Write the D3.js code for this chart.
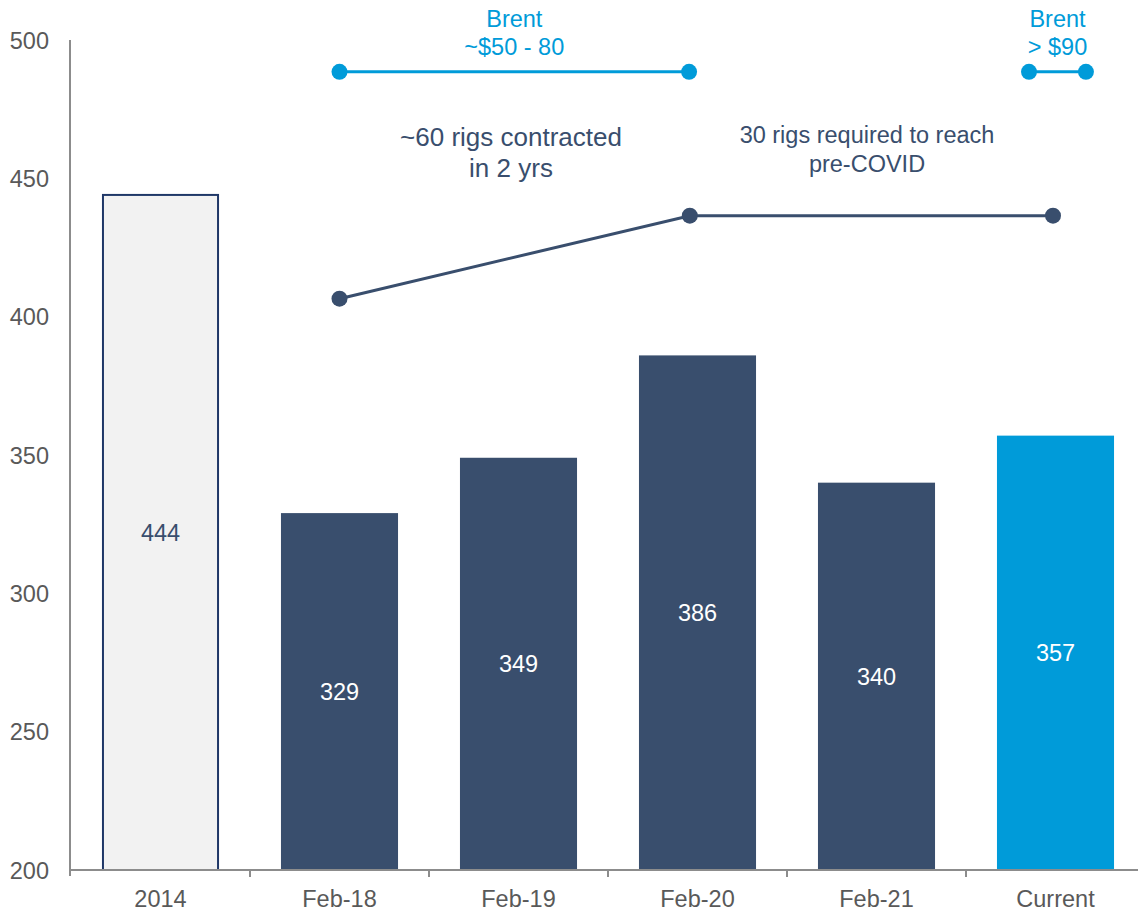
<!DOCTYPE html>
<html>
<head>
<meta charset="utf-8">
<script src="https://cdn.jsdelivr.net/npm/d3@7"></script>
<style>
  html, body { margin: 0; padding: 0; background: #ffffff; }
  svg { display: block; font-family: "Liberation Sans", Arial, sans-serif; }
</style>
</head>
<body>
<svg id="chart" width="1138" height="911"></svg>
<script>
// Active rig count by period
const categories = ["2014", "Feb-18", "Feb-19", "Feb-20", "Feb-21", "Current"];
const rigCounts = [444, 329, 349, 386, 340, 357];
const yTicks = [200, 250, 300, 350, 400, 450, 500];

// Trend line of contracted rigs (category position, value)
const trendPos = [1, 2.957, 4.986];
const trendValues = [406.5, 436.5, 436.5];

// Brent price brackets (category position span, level)
const brentSpans = [[1, 2.953], [4.852, 5.17]];
const brentLevel = 488.5;
const brentLabels = [["Brent", "~$50 - 80"], ["Brent", "> $90"]];

const navy = "#394e6d";
const blue = "#009bd9";
const axisGrey = "#8c8c8c";
const textGrey = "#595959";

const svg = d3.select("#chart");
const axisX = 70, plotLeft = 71, plotRight = 1145, plotTop = 40, plotBottom = 870;

const x = d3.scaleBand().domain(categories).range([plotLeft, plotRight])
  .paddingInner(0.346).paddingOuter(0.173);
const xPos = d3.scaleLinear().domain([-0.5, categories.length - 0.5]).range([plotLeft, plotRight]);
const y = d3.scaleLinear().domain([200, 500]).range([plotBottom, plotTop]);

// Bars
svg.append("g").selectAll("rect")
  .data(categories)
  .join("rect")
  .attr("x", d => x(d) + (d === "2014" ? 1 : 0))
  .attr("width", d => x.bandwidth() - (d === "2014" ? 2 : 0))
  .attr("y", (d, i) => y(rigCounts[i]))
  .attr("height", (d, i) => y(200) - y(rigCounts[i]))
  .attr("fill", (d, i) => i === 0 ? "#f2f2f2" : (i === categories.length - 1 ? blue : navy))
  .attr("stroke", (d, i) => i === 0 ? "#1f3767" : "none")
  .attr("stroke-width", 2);

// Value labels in bar middles
svg.append("g").selectAll("text")
  .data(categories)
  .join("text")
  .attr("x", d => x(d) + x.bandwidth() / 2)
  .attr("y", (d, i) => (y(rigCounts[i]) + y(200)) / 2 + 8.5)
  .attr("text-anchor", "middle")
  .attr("font-size", 23.5)
  .attr("fill", (d, i) => i === 0 ? navy : "#ffffff")
  .text((d, i) => rigCounts[i]);

// Y axis
const yAxis = svg.append("g").attr("transform", `translate(${axisX},0)`)
  .call(d3.axisLeft(y).tickValues(yTicks).tickSize(0).tickPadding(21));
yAxis.select(".domain").attr("stroke", axisGrey).attr("stroke-width", 2)
  .attr("d", `M0,${plotTop}V${plotBottom + 6}`);
yAxis.selectAll("text").attr("font-size", 23.5).attr("fill", textGrey)
  .attr("font-family", "Liberation Sans, Arial, sans-serif").attr("dy", "0.35em");

// X axis with ticks on band boundaries
const xAxis = svg.append("g").attr("transform", `translate(0,${plotBottom})`);
xAxis.append("line").attr("x1", axisX).attr("x2", plotRight)
  .attr("stroke", axisGrey).attr("stroke-width", 2);
xAxis.selectAll("line.tick")
  .data(d3.range(1, categories.length + 1))
  .join("line").attr("class", "tick")
  .attr("x1", i => xPos(i - 0.5)).attr("x2", i => xPos(i - 0.5))
  .attr("y1", 0).attr("y2", 7)
  .attr("stroke", axisGrey).attr("stroke-width", 2);
xAxis.selectAll("text")
  .data(categories)
  .join("text")
  .attr("x", d => x(d) + x.bandwidth() / 2)
  .attr("y", 37)
  .attr("text-anchor", "middle")
  .attr("font-size", 23.5)
  .attr("fill", textGrey)
  .text(d => d);

// Trend line
const trendPts = trendPos.map((p, i) => [xPos(p), y(trendValues[i])]);
svg.append("path")
  .attr("d", d3.line()(trendPts))
  .attr("fill", "none").attr("stroke", navy).attr("stroke-width", 3);
svg.append("g").selectAll("circle")
  .data(trendPts).join("circle")
  .attr("cx", d => d[0]).attr("cy", d => d[1]).attr("r", 8)
  .attr("fill", navy);

// Brent brackets
brentSpans.forEach((span, k) => {
  const g = svg.append("g");
  const yy = y(brentLevel);
  g.append("line")
    .attr("x1", xPos(span[0])).attr("x2", xPos(span[1]))
    .attr("y1", yy).attr("y2", yy)
    .attr("stroke", blue).attr("stroke-width", 3);
  g.selectAll("circle").data(span).join("circle")
    .attr("cx", d => xPos(d)).attr("cy", yy).attr("r", 8).attr("fill", blue);
  const cx = (xPos(span[0]) + xPos(span[1])) / 2;
  g.selectAll("text").data(brentLabels[k]).join("text")
    .attr("x", cx).attr("y", (d, i) => 27 + i * 28)
    .attr("text-anchor", "middle")
    .attr("font-size", 23.5).attr("fill", blue)
    .text(d => d);
});

// Annotations
const notes = [
  { x: 511, y: 146, size: 26, gap: 31, lines: ["~60 rigs contracted", "in 2 yrs"] },
  { x: 867, y: 143, size: 23.5, gap: 29, lines: ["30 rigs required to reach", "pre-COVID"] }
];
notes.forEach(n => {
  svg.append("g").selectAll("text").data(n.lines).join("text")
    .attr("x", n.x).attr("y", (d, i) => n.y + i * n.gap)
    .attr("text-anchor", "middle")
    .attr("font-size", n.size).attr("fill", navy)
    .text(d => d);
});
</script>
</body>
</html>
